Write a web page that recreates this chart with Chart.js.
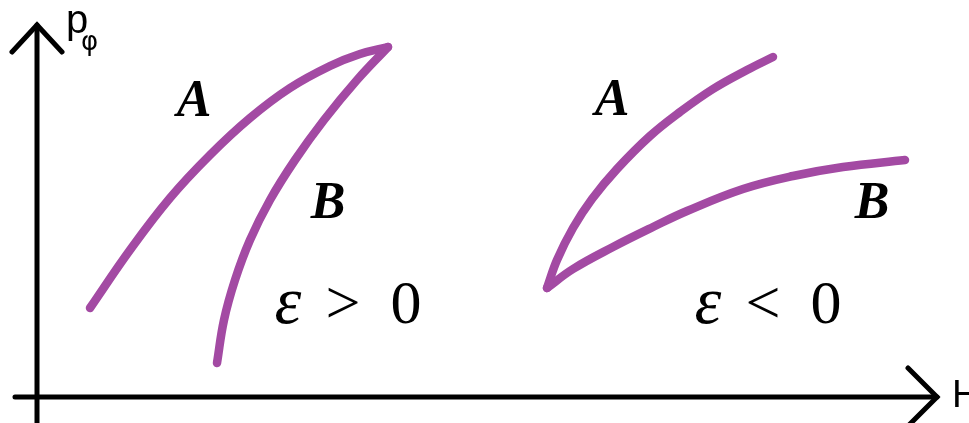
<!DOCTYPE html>
<html>
<head>
<meta charset="utf-8">
<script src="https://cdn.jsdelivr.net/npm/chart.js@4.4.1/dist/chart.umd.min.js"></script>
<style>
  html, body { margin: 0; padding: 0; background: #fff; }
  #wrap { width: 969px; height: 423px; position: relative; }
</style>
</head>
<body>
<div id="wrap"><canvas id="chart"></canvas></div>
<script>
// Branch curves in (H, p_phi) units; origin is where the two axes cross.
const posA_H = [0.53, 0.93, 1.33, 1.73, 2.13, 2.53, 2.93, 3.23, 3.51];
const posA_p = [0.89, 1.47, 1.99, 2.42, 2.79, 3.09, 3.31, 3.43, 3.50];

const posB_H = [1.80, 1.87, 1.98, 2.13, 2.33, 2.58, 2.87, 3.20, 3.51];
const posB_p = [0.34, 0.77, 1.17, 1.57, 1.97, 2.37, 2.77, 3.17, 3.50];

const negA_H = [5.10, 5.20, 5.36, 5.55, 5.80, 6.13, 6.43, 6.76, 7.10, 7.36];
const negA_p = [1.09, 1.37, 1.69, 1.98, 2.28, 2.61, 2.85, 3.08, 3.27, 3.40];

const negB_H = [5.10, 5.36, 5.76, 6.16, 6.50, 7.06, 7.56, 8.06, 8.68];
const negB_p = [1.09, 1.28, 1.50, 1.70, 1.86, 2.08, 2.21, 2.30, 2.37];

const PURPLE = '#a34aa3';

function pts(hs, ps) {
  return hs.map((h, i) => ({ x: h, y: ps[i] }));
}

function curve(hs, ps) {
  return {
    data: pts(hs, ps),
    showLine: true,
    borderColor: PURPLE,
    borderWidth: 8.5,
    borderCapStyle: 'round',
    borderJoinStyle: 'round',
    pointRadius: 0,
    tension: 0.4,
    fill: false
  };
}

// Hand-drawn style axes with open arrowheads, plus the text annotations.
const sketchPlugin = {
  id: 'sketch',
  beforeDatasetsDraw(chart) {
    const { ctx, scales: { x, y } } = chart;
    const x0 = x.getPixelForValue(0);
    const y0 = y.getPixelForValue(0);
    const yTop = y.getPixelForValue(3.72);
    const xEnd = x.getPixelForValue(9.0);
    ctx.save();
    ctx.strokeStyle = '#000';
    ctx.lineWidth = 5;
    ctx.lineCap = 'round';
    ctx.lineJoin = 'miter';
    ctx.beginPath();
    ctx.moveTo(x0, chart.height + 5);
    ctx.lineTo(x0, yTop);
    ctx.moveTo(x.getPixelForValue(-0.22), y0);
    ctx.lineTo(xEnd, y0);
    ctx.stroke();
    ctx.beginPath();
    ctx.moveTo(x0 - 25, yTop + 27);
    ctx.lineTo(x0, yTop);
    ctx.lineTo(x0 + 25, yTop + 27);
    ctx.moveTo(xEnd - 29, y0 - 29);
    ctx.lineTo(xEnd, y0);
    ctx.lineTo(xEnd - 29, y0 + 29);
    ctx.stroke();
    ctx.restore();
  },
  afterDatasetsDraw(chart) {
    const { ctx, scales: { x, y } } = chart;
    const put = (txt, h, p, font, align, base) => {
      ctx.font = font;
      ctx.textAlign = align || 'center';
      ctx.textBaseline = base || 'alphabetic';
      ctx.fillText(txt, x.getPixelForValue(h), y.getPixelForValue(p));
    };
    ctx.save();
    ctx.fillStyle = '#000';
    put('p', 0.29, 3.64, '40px "Liberation Sans"', 'left');
    put('φ', 0.44, 3.47, '26px "DejaVu Sans"', 'left');
    put('H', 9.15, 0, '38px "Liberation Sans"', 'left', 'middle');

    const bold = 'italic bold 52px "Liberation Serif"';
    put('A', 1.57, 2.94, bold, 'center', 'middle');
    put('B', 2.91, 1.92, bold, 'center', 'middle');
    put('A', 5.75, 2.95, bold, 'center', 'middle');
    put('B', 8.35, 1.92, bold, 'center', 'middle');

    const math = '62px "Liberation Serif"';
    const eps = 'italic 68px "Liberation Serif"';
    put('ε', 2.51, 0.74, eps);
    put('>', 3.06, 0.74, math);
    put('0', 3.69, 0.74, math);
    put('ε', 6.71, 0.74, eps);
    put('<', 7.26, 0.74, math);
    put('0', 7.89, 0.74, math);
    ctx.restore();
  }
};

new Chart(document.getElementById('chart'), {
  type: 'scatter',
  data: {
    datasets: [
      curve(posA_H, posA_p),
      curve(posB_H, posB_p),
      curve(negA_H, negA_p),
      curve(negB_H, negB_p)
    ]
  },
  options: {
    responsive: true,
    maintainAspectRatio: false,
    animation: false,
    layout: { padding: 0 },
    scales: {
      x: { type: 'linear', min: -0.37, max: 9.32, display: false },
      y: { type: 'linear', min: -0.26, max: 3.97, display: false }
    },
    plugins: {
      legend: { display: false },
      tooltip: { enabled: false }
    }
  },
  plugins: [sketchPlugin]
});
</script>
</body>
</html>
